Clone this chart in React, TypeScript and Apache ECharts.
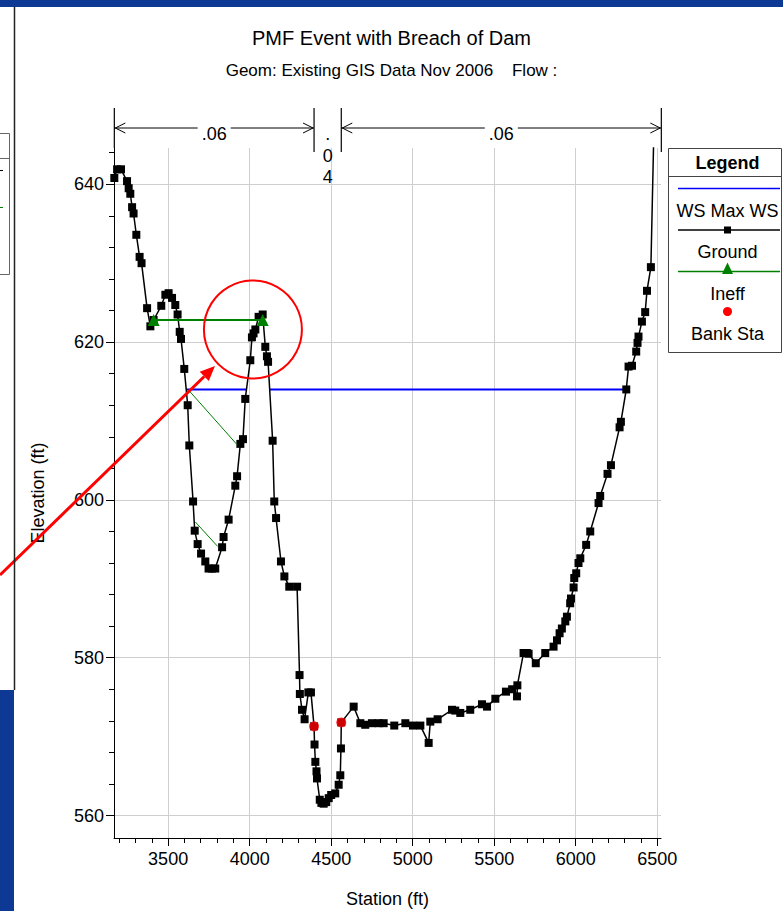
import React, { useEffect, useRef } from "react";
import * as echarts from "echarts";

// ---- Data ----
const groundStation = [
  3170, 3187, 3211, 3248, 3258, 3268, 3279, 3288, 3305, 3325,
  3337, 3371, 3391, 3411, 3458, 3483, 3503, 3524, 3544, 3558,
  3571, 3579, 3599, 3620, 3630, 3653, 3663, 3681, 3702, 3728,
  3748, 3768, 3789, 3831, 3840, 3871, 3912, 3923, 3943, 3959,
  3973, 4004, 4014, 4024, 4035, 4055, 4080, 4096, 4106, 4113,
  4141, 4151, 4162, 4192, 4213, 4243, 4291, 4306, 4308, 4321,
  4337, 4360, 4376, 4395, 4398, 4403, 4410, 4413, 4430, 4440,
  4454, 4470, 4485, 4500, 4525, 4546, 4556, 4560, 4562, 4638,
  4679, 4709, 4750, 4791, 4822, 4887, 4955, 5002, 5047, 5098,
  5108, 5153, 5241, 5261, 5292, 5353, 5425, 5456, 5507, 5572,
  5610, 5640, 5642, 5680, 5700, 5711, 5755, 5813, 5864, 5885,
  5901, 5915, 5936, 5946, 5966, 5971, 5987, 5991, 6003, 6017,
  6028, 6064, 6089, 6140, 6150, 6195, 6216, 6269, 6277, 6310,
  6324, 6345, 6371, 6379, 6385, 6406, 6426, 6437, 6461, 6525,
];
const groundElev = [
  640.8, 641.9, 641.9, 640.4, 639.5, 638.8, 637.1, 636.3, 633.6, 630.8,
  630.0, 624.3, 622.0, 622.8, 624.6, 626.0, 626.2, 625.6, 624.7, 623.5,
  621.3, 620.4, 616.6, 612.0, 606.9, 599.8, 596.1, 594.4, 593.2, 592.2,
  591.3, 591.3, 591.3, 594.0, 595.3, 597.5, 601.8, 603.0, 607.1, 607.7,
  612.8, 617.7, 620.6, 621.1, 621.6, 623.2, 623.5, 619.4, 618.2, 617.5,
  607.5, 599.8, 597.7, 592.2, 590.3, 589.0, 589.0, 577.8, 575.4, 573.4,
  572.2, 575.6, 575.6, 571.3, 569.0, 566.8, 565.6, 564.7, 562.0, 561.6,
  561.5, 561.7, 562.2, 562.6, 562.8, 563.9, 565.1, 568.5, 571.8, 573.8,
  571.7, 571.5, 571.7, 571.7, 571.7, 571.4, 571.7, 571.4, 571.4, 569.2,
  571.9, 572.2, 573.4, 573.3, 573.0, 573.4, 574.1, 573.8, 574.8, 575.7,
  576.0, 575.1, 576.5, 580.6, 580.6, 580.5, 579.3, 580.6, 581.4, 582.2,
  583.1, 583.7, 584.6, 585.2, 586.9, 587.5, 588.9, 590.1, 590.7, 592.0,
  592.6, 594.3, 596.0, 599.6, 600.5, 603.3, 604.4, 609.2, 609.9, 614.0,
  616.9, 617.0, 618.8, 619.9, 620.7, 622.6, 623.8, 626.5, 629.5, 690.0,
];

// Water surface (two wetted reaches, broken over the middle hump)
const wsStation = [3611, 3981, "-", 4123, 6310];
const wsElev = [614.0, 614.0, "-", 614.0, 614.0];

// Ineffective flow area
const ineffStation = [3411, 4080];
const ineffElev = [622.8, 622.8];
const ineffHatchStation = [3626, 3923, "-", 3667, 3804];
const ineffHatchElev = [613.9, 607.0, "-", 597.2, 594.1];

// Bank stations
const bankStation = [4395, 4562];
const bankElev = [571.3, 571.8];

// Manning's n regions
const nBreaks = [3170, 4395, 4562, 6525];
const nValues = [".06", ".04", ".06"];

// Axis ticks
const xTicks = [3500, 4000, 4500, 5000, 5500, 6000, 6500];
const yTicks = [560, 580, 600, 620, 640];

const FONT = "'Liberation Sans', Arial, Helvetica, sans-serif";

const zip = (xs: any[], ys: any[]) => xs.map((x, i) => [x, ys[i]]);

export default function App() {
  const ref = useRef<HTMLDivElement>(null);

  useEffect(() => {
    const el = ref.current as HTMLDivElement;
    const chart = echarts.init(el, null, { renderer: "svg" });

    chart.setOption({
      animation: false,
      backgroundColor: "#ffffff",
      title: {
        text: "PMF Event with Breach of Dam",
        subtext: "Geom: Existing GIS Data Nov 2006\u00a0\u00a0\u00a0\u00a0Flow :",
        left: "center",
        top: 20,
        itemGap: 9,
        textStyle: { fontFamily: FONT, fontSize: 20, fontWeight: "normal", color: "#000", lineHeight: 26 },
        subtextStyle: { fontFamily: FONT, fontSize: 17, color: "#000", lineHeight: 20 },
      },
      grid: { left: 114, right: 122, top: 148, bottom: 73, containLabel: false, outerBoundsMode: "none" },
      xAxis: {
        type: "value",
        min: 3168,
        max: 6523,
        name: "Station (ft)",
        nameLocation: "middle",
        nameGap: 52,
        nameTextStyle: { fontFamily: FONT, fontSize: 18, color: "#000" },
        axisLine: { show: true, lineStyle: { color: "#000", width: 1 } },
        axisTick: { show: true, customValues: xTicks, length: 8, lineStyle: { color: "#000" } },
        minorTick: { show: true, splitNumber: 5, length: 5, lineStyle: { color: "#000" } },
        axisLabel: {
          customValues: xTicks,
          formatter: (v: number) => String(Math.round(v)),
          fontFamily: FONT,
          fontSize: 18,
          color: "#000",
          margin: 12,
        },
        splitLine: { show: true, lineStyle: { color: "#cfcfcf", width: 1 } },
      },
      yAxis: {
        type: "value",
        min: 557.15,
        max: 644.6,
        name: "Elevation (ft)",
        nameLocation: "middle",
        nameGap: 67,
        nameTextStyle: { fontFamily: FONT, fontSize: 18, color: "#000" },
        axisLine: { show: true, lineStyle: { color: "#000", width: 1 } },
        axisTick: { show: true, customValues: yTicks, length: 8, lineStyle: { color: "#000" } },
        minorTick: { show: true, splitNumber: 5, length: 5, lineStyle: { color: "#000" } },
        axisLabel: {
          customValues: yTicks,
          formatter: (v: number) => String(Math.round(v)),
          fontFamily: FONT,
          fontSize: 18,
          color: "#000",
          margin: 10,
        },
        splitLine: { show: true, lineStyle: { color: "#cfcfcf", width: 1 } },
      },
      series: [
        {
          name: "WS Max WS",
          type: "line",
          data: zip(wsStation, wsElev),
          symbol: "none",
          connectNulls: false,
          lineStyle: { color: "#0000ff", width: 2 },
          z: 2,
          silent: true,
        },
        {
          name: "Ground",
          type: "line",
          data: zip(groundStation, groundElev),
          symbol: "rect",
          symbolSize: 8,
          showAllSymbol: true,
          clip: true,
          itemStyle: { color: "#000" },
          lineStyle: { color: "#000", width: 1.5 },
          z: 3,
          silent: true,
        },
        {
          name: "Ineff hatch",
          type: "line",
          data: zip(ineffHatchStation, ineffHatchElev),
          symbol: "none",
          connectNulls: false,
          lineStyle: { color: "#008000", width: 1 },
          z: 4,
          silent: true,
        },
        {
          name: "Ineff",
          type: "line",
          data: zip(ineffStation, ineffElev),
          symbol: "triangle",
          symbolSize: 12,
          itemStyle: { color: "#008000" },
          lineStyle: { color: "#008000", width: 2 },
          z: 5,
          silent: true,
        },
        {
          name: "Bank Sta",
          type: "scatter",
          data: zip(bankStation, bankElev),
          symbol: "circle",
          symbolSize: 10,
          itemStyle: { color: "#ff0000" },
          z: 6,
          silent: true,
        },
      ],
    });

    const px = (s: number, e: number) => chart.convertToPixel({ gridIndex: 0 }, [s, e]) as number[];

    const g: any[] = [];

    // Window chrome (screenshot surroundings)
    g.push({ type: "rect", shape: { x: 0, y: 0, width: 783, height: 7 }, style: { fill: "#0d3894" }, z: 100 });
    g.push({ type: "line", shape: { x1: 14.5, y1: 7, x2: 14.5, y2: 690 }, style: { stroke: "#222", lineWidth: 1.5 }, z: 100 });
    g.push({ type: "rect", shape: { x: -2, y: 133.5, width: 11.5, height: 141 }, style: { fill: "none", stroke: "#666", lineWidth: 1 }, z: 100 });
    g.push({ type: "line", shape: { x1: 0, y1: 158.5, x2: 9.5, y2: 158.5 }, style: { stroke: "#666", lineWidth: 1 }, z: 100 });
    g.push({ type: "line", shape: { x1: 0, y1: 170.5, x2: 3, y2: 170.5 }, style: { stroke: "#000", lineWidth: 1 }, z: 100 });
    g.push({ type: "line", shape: { x1: 0, y1: 207.5, x2: 3, y2: 207.5 }, style: { stroke: "#008000", lineWidth: 1 }, z: 100 });
    g.push({ type: "rect", shape: { x: 0, y: 690, width: 14, height: 221 }, style: { fill: "#0d3894" }, z: 100 });

    // Manning's n brackets above the plot
    const yTop = 108;
    const yArrow = 128;
    const bx = nBreaks.map((s) => px(s, 600)[0]);
    bx.forEach((x, i) => {
      const yEnd = i === 0 ? 148 : 152;
      g.push({ type: "line", shape: { x1: x, y1: yTop, x2: x, y2: yEnd }, style: { stroke: "#000", lineWidth: 1.2 }, z: 50 });
    });
    nValues.forEach((v, i) => {
      const x0 = bx[i];
      const x1 = bx[i + 1];
      const cx = (x0 + x1) / 2;
      if (x1 - x0 > 60) {
        g.push({ type: "line", shape: { x1: x0, y1: yArrow, x2: x1, y2: yArrow }, style: { stroke: "#000", lineWidth: 1 }, z: 50 });
        g.push({ type: "polyline", shape: { points: [[x0 + 11, yArrow - 5], [x0 + 1, yArrow], [x0 + 11, yArrow + 5]] }, style: { stroke: "#000", fill: "none", lineWidth: 1 }, z: 50 });
        g.push({ type: "polyline", shape: { points: [[x1 - 11, yArrow - 5], [x1 - 1, yArrow], [x1 - 11, yArrow + 5]] }, style: { stroke: "#000", fill: "none", lineWidth: 1 }, z: 50 });
        g.push({
          type: "text",
          x: cx,
          y: 134,
          style: { text: v, fontFamily: FONT, fontSize: 18, fill: "#000", align: "center", verticalAlign: "middle", backgroundColor: "#fff", padding: [0, 4] },
          z: 51,
        });
      } else {
        v.split("").forEach((ch, k) => {
          g.push({
            type: "text",
            x: cx,
            y: 134 + k * 21.5,
            style: { text: ch, fontFamily: FONT, fontSize: 18, fill: "#000", align: "center", verticalAlign: "middle" },
            z: 51,
          });
        });
      }
    });

    // Red annotation circle and arrow
    const c = px(4020, 621.6);
    g.push({ type: "circle", shape: { cx: c[0], cy: c[1], r: 49 }, style: { fill: "none", stroke: "#ff0000", lineWidth: 2 }, z: 60 });
    const tip = [215, 366];
    const tail = [0, 575];
    const dx = tip[0] - tail[0];
    const dy = tip[1] - tail[1];
    const len = Math.sqrt(dx * dx + dy * dy);
    const ux = dx / len;
    const uy = dy / len;
    const hl = 15;
    const hw = 6.5;
    const base = [tip[0] - ux * hl, tip[1] - uy * hl];
    g.push({ type: "line", shape: { x1: tail[0], y1: tail[1], x2: base[0], y2: base[1] }, style: { stroke: "#ff0000", lineWidth: 3 }, z: 60 });
    g.push({
      type: "polygon",
      shape: { points: [tip, [base[0] - uy * hw, base[1] + ux * hw], [base[0] + uy * hw, base[1] - ux * hw]] },
      style: { fill: "#ff0000" },
      z: 60,
    });

    // Legend box (HEC-RAS style)
    const lx0 = 668.5;
    const lx1 = 781.5;
    const lcx = 727.5;
    g.push({ type: "rect", shape: { x: lx0, y: 148.5, width: lx1 - lx0, height: 204 }, style: { fill: "#fff", stroke: "#444", lineWidth: 1 }, z: 70 });
    g.push({ type: "line", shape: { x1: lx0, y1: 176.5, x2: lx1, y2: 176.5 }, style: { stroke: "#444", lineWidth: 1 }, z: 71 });
    g.push({ type: "text", x: lcx, y: 162.5, style: { text: "Legend", fontFamily: FONT, fontSize: 18, fontWeight: "bold", fill: "#000", align: "center", verticalAlign: "middle" }, z: 71 });
    const legendItems = [
      { name: "WS Max WS", y: 188.5, color: "#0000ff", mark: "none" },
      { name: "Ground", y: 230, color: "#000", mark: "rect" },
      { name: "Ineff", y: 271.5, color: "#008000", mark: "triangle" },
      { name: "Bank Sta", y: 311.5, color: "#ff0000", mark: "circle" },
    ];
    legendItems.forEach((it) => {
      if (it.mark !== "circle") {
        g.push({ type: "line", shape: { x1: 678, y1: it.y, x2: 780, y2: it.y }, style: { stroke: it.color, lineWidth: 1.5 }, z: 71 });
      }
      if (it.mark === "rect") {
        g.push({ type: "rect", shape: { x: lcx - 3.5, y: it.y - 3.5, width: 7, height: 7 }, style: { fill: it.color }, z: 72 });
      } else if (it.mark === "triangle") {
        g.push({ type: "polygon", shape: { points: [[lcx, it.y - 9], [lcx - 5.5, it.y + 2.5], [lcx + 5.5, it.y + 2.5]] }, style: { fill: it.color }, z: 72 });
      } else if (it.mark === "circle") {
        g.push({ type: "circle", shape: { cx: lcx, cy: it.y, r: 4.5 }, style: { fill: it.color }, z: 72 });
      }
      g.push({
        type: "text",
        x: lcx,
        y: it.y + 22,
        style: { text: it.name, fontFamily: FONT, fontSize: 18, fill: "#000", align: "center", verticalAlign: "middle" },
        z: 72,
      });
    });

    chart.setOption({ graphic: g });

    return () => chart.dispose();
  }, []);

  return (
    <div
      ref={ref}
      style={{ position: "fixed", left: 0, top: 0, width: 783, height: 911, background: "#fff" }}
    />
  );
}
